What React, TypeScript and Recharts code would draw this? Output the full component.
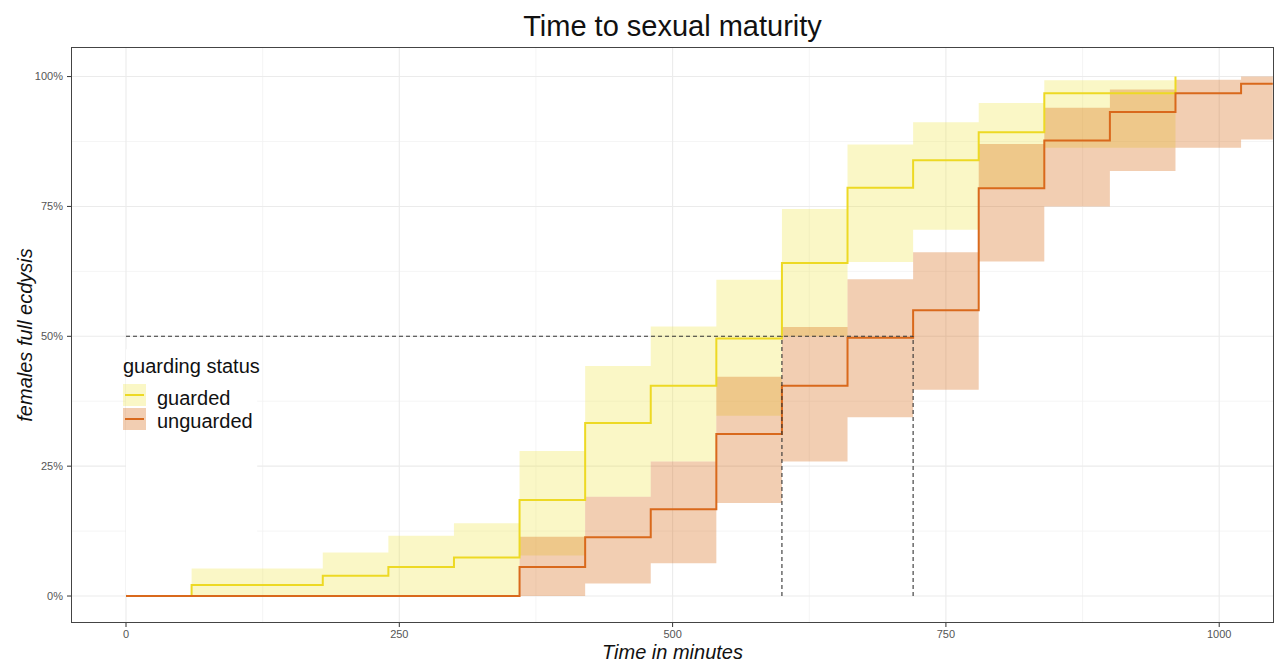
import React from "react";
import {
  ComposedChart,
  Area,
  Line,
  XAxis,
  YAxis,
  CartesianGrid,
  ReferenceLine,
  ReferenceArea,
} from "recharts";

// Kaplan-Meier style cumulative curves (percent) with confidence bands
const guardedTime = [0, 60, 180, 240, 300, 360, 420, 480, 540, 600, 660, 720, 780, 840, 960];
const guardedSurv = [0, 2.1, 3.9, 5.6, 7.4, 18.5, 33.3, 40.5, 49.6, 64.1, 78.6, 83.9, 89.3, 96.8, 100];
const guardedLow = [0, 0, 0, 0, 0, 7.8, 19.1, 25.9, 34.7, 50.0, 64.3, 70.5, 78.5, 86.3, 100];
const guardedHigh = [0, 5.3, 8.4, 11.6, 14.0, 27.9, 44.3, 51.9, 60.9, 74.5, 86.9, 91.2, 94.9, 99.3, 100];

const unguardedTime = [0, 360, 420, 480, 540, 600, 660, 720, 780, 840, 900, 960, 1020, 1049];
const unguardedSurv = [0, 5.6, 11.3, 16.7, 31.2, 40.5, 49.7, 55.0, 78.5, 87.7, 93.2, 96.8, 98.6, 98.6];
const unguardedLow = [0, 0, 2.4, 6.3, 17.9, 25.9, 34.4, 39.7, 64.4, 75.0, 81.8, 86.3, 87.9, 87.9];
const unguardedHigh = [0, 11.4, 19.1, 25.9, 42.2, 51.8, 61.0, 66.2, 87.0, 94.0, 97.5, 99.4, 100, 100];

const medianTimes = [600, 720];
const medianLevel = 50;

const xTicks = [0, 250, 500, 750, 1000];
const xMinor = [125, 375, 625, 875];
const yTicks = [0, 25, 50, 75, 100];
const yMinor = [12.5, 37.5, 62.5, 87.5];

const FONT = "'Liberation Sans', Arial, Helvetica, sans-serif";
const YELLOW = "#F0E442";
const YELLOW_LINE = "#EDD924";
const ORANGE = "#D55E00";
const ORANGE_LINE = "#D9691C";

const W = 1277;
const H = 664;
const PLOT = { left: 72, top: 48, right: 1273, bottom: 622 };

const guardedRows = guardedTime.map((t, i) => ({
  t,
  surv: guardedSurv[i],
  band: [guardedLow[i], guardedHigh[i]],
}));
const unguardedRows = unguardedTime.map((t, i) => ({
  t,
  surv: unguardedSurv[i],
  band: [unguardedLow[i], unguardedHigh[i]],
}));

const tickStyle = { fill: "#555555", stroke: "none", fontSize: 11, fontFamily: FONT };

function LegendKey({ color, line, top }: { color: string; line: string; top: number }) {
  return (
    <div
      style={{
        position: "absolute",
        left: 123,
        top,
        width: 23,
        height: 22,
        background: color,
      }}
    >
      <div style={{ position: "absolute", left: 2, right: 2, top: 10, height: 2, background: line }} />
    </div>
  );
}

export default function App() {
  return (
    <div style={{ position: "absolute", left: 0, top: 0, width: W, height: H, background: "#fff", fontFamily: FONT }}>
      <ComposedChart
        width={W}
        height={H}
        margin={{ top: PLOT.top, right: W - PLOT.right, bottom: 12, left: 0 }}
      >
        <CartesianGrid stroke="#f3f3f3" strokeWidth={0.8} verticalValues={xMinor} horizontalValues={yMinor} />
        <CartesianGrid stroke="#ebebeb" strokeWidth={1.1} verticalValues={xTicks} horizontalValues={yTicks} />
        <XAxis
          dataKey="t"
          type="number"
          domain={[-49.4, 1049.2]}
          ticks={xTicks}
          allowDataOverflow
          axisLine={false}
          stroke="#333"
          tickLine={{ stroke: "#333" }}
          tickSize={5}
          tickMargin={3}
          height={30}
          tick={tickStyle}
        />
        <YAxis
          type="number"
          domain={[-5, 105.5]}
          ticks={yTicks}
          allowDataOverflow
          tickFormatter={(v: number) => `${v}%`}
          axisLine={false}
          stroke="#333"
          tickLine={{ stroke: "#333" }}
          tickSize={5}
          tickMargin={4}
          width={PLOT.left}
          tick={tickStyle}
        />
        <ReferenceArea x1={0} x2={120} y1={0.5} y2={47.5} fill="#fff" fillOpacity={1} stroke="none" />
        <Area
          data={guardedRows}
          dataKey="band"
          type="stepAfter"
          fill={YELLOW}
          fillOpacity={0.3}
          stroke="none"
          activeDot={false}
          isAnimationActive={false}
        />
        <Area
          data={unguardedRows}
          dataKey="band"
          type="stepAfter"
          fill={ORANGE}
          fillOpacity={0.3}
          stroke="none"
          activeDot={false}
          isAnimationActive={false}
        />
        <Line
          data={guardedRows}
          dataKey="surv"
          type="stepAfter"
          stroke={YELLOW_LINE}
          strokeWidth={2}
          dot={false}
          activeDot={false}
          isAnimationActive={false}
        />
        <Line
          data={unguardedRows}
          dataKey="surv"
          type="stepAfter"
          stroke={ORANGE_LINE}
          strokeWidth={2}
          dot={false}
          activeDot={false}
          isAnimationActive={false}
        />
        <ReferenceLine
          segment={[
            { x: 0, y: medianLevel },
            { x: Math.max(...medianTimes), y: medianLevel },
          ]}
          stroke="#333"
          strokeWidth={1.1}
          strokeDasharray="4 3"
        />
        {medianTimes.map((m) => (
          <ReferenceLine
            key={m}
            segment={[
              { x: m, y: 0 },
              { x: m, y: medianLevel },
            ]}
            stroke="#333"
            strokeWidth={1.1}
            strokeDasharray="4 3"
          />
        ))}
      </ComposedChart>

      {/* panel border */}
      <div
        style={{
          position: "absolute",
          left: PLOT.left - 1,
          top: PLOT.top - 1,
          width: PLOT.right - PLOT.left + 2,
          height: PLOT.bottom - PLOT.top + 2,
          boxSizing: "border-box",
          border: "1.2px solid #444",
          pointerEvents: "none",
        }}
      />

      {/* title */}
      <div
        style={{
          position: "absolute",
          left: PLOT.left,
          width: PLOT.right - PLOT.left,
          top: 12,
          textAlign: "center",
          fontSize: 29,
          lineHeight: 1,
          color: "#111",
        }}
      >
        Time to sexual maturity
      </div>

      {/* axis titles */}
      <div
        style={{
          position: "absolute",
          left: PLOT.left,
          width: PLOT.right - PLOT.left,
          top: 642,
          textAlign: "center",
          fontSize: 20,
          fontStyle: "italic",
          lineHeight: 1,
          color: "#111",
        }}
      >
        Time in minutes
      </div>
      <div
        style={{
          position: "absolute",
          left: 25 - 150,
          top: 335 - 10,
          width: 300,
          height: 20,
          lineHeight: "20px",
          textAlign: "center",
          fontSize: 20,
          fontStyle: "italic",
          color: "#111",
          transform: "rotate(-90deg)",
        }}
      >
        females full ecdysis
      </div>

      {/* legend */}
      <div style={{ position: "absolute", left: 123, top: 356, fontSize: 20, lineHeight: 1, color: "#111" }}>
        guarding status
      </div>
      <LegendKey color="rgba(240,228,66,0.3)" line={YELLOW_LINE} top={384} />
      <LegendKey color="rgba(213,94,0,0.3)" line={ORANGE_LINE} top={408} />
      <div style={{ position: "absolute", left: 157, top: 388, fontSize: 20, lineHeight: 1, color: "#111" }}>
        guarded
      </div>
      <div style={{ position: "absolute", left: 157, top: 411, fontSize: 20, lineHeight: 1, color: "#111" }}>
        unguarded
      </div>
    </div>
  );
}
